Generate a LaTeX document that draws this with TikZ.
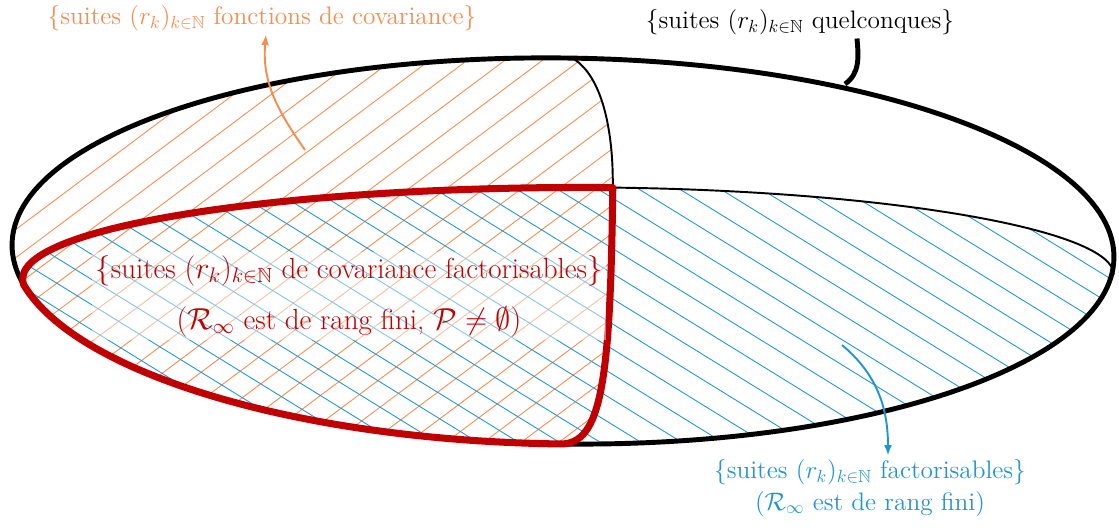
\documentclass[tikz,border=0pt]{standalone}
\usepackage{amsmath,amssymb}
\usepackage{xcolor}
\usepackage{tikz}
\usetikzlibrary{arrows.meta}
\definecolor{covorange}{RGB}{245,140,80}
\definecolor{factblue}{RGB}{30,150,210}
\definecolor{factred}{RGB}{192,0,0}
\tikzset{
  setline/.style={draw=black, line width=2.8pt},
  edgeline/.style={draw=black, line width=1.1pt},
  covhatch/.style={draw=covorange, line width=0.5pt},
  facthatch/.style={draw=factblue, line width=0.5pt},
  redline/.style={draw=factred, line width=4pt, line join=round},
  covarrow/.style={-{Latex[length=6pt,width=4.5pt]}, draw=covorange, line width=1.1pt},
  factarrow/.style={-{Latex[length=6pt,width=4.5pt]}, draw=factblue, line width=1.1pt},
  setlabel/.style={font=\Large, align=center, inner sep=2pt}
}

\begin{document}
\begin{tikzpicture}[x=0.02cm,y=0.02cm]
\useasboundingbox (0,0) rectangle (1119,530);
\begin{scope}[rotate around={-0.7:(563,279)}]
% hachures orange
\begin{scope}
\clip (563,279) ellipse [x radius=551, y radius=193];
\clip (570,540) -- (570,472) .. controls (600,455) and (612,400) .. (612,343) .. controls (612,150) and (604,86) .. (563,86) -- (563,-10) -- (-10,-10) -- (-10,540) -- cycle;
\foreach \i in {-700,-663,...,650}{\draw[covhatch] (\i,0) -- +(690,530);}
\end{scope}
% hachures bleues
\begin{scope}
\clip (563,279) ellipse [x radius=551, y radius=193];
\clip (24,238.9) .. controls (4,298) and (300,342) .. (612,343) arc[start angle=90, end angle=0, x radius=502, y radius=81] -- (1130,262) -- (1130,-10) -- (-10,-10) -- (-10,238.9) -- cycle;
\foreach \j in {0,25,...,1225}{\draw[facthatch] (0,\j) -- +(1119,-672);}
\end{scope}
% bords
\draw[edgeline] (570,472) .. controls (600,455) and (612,400) .. (612,343) arc[start angle=90, end angle=0, x radius=502, y radius=81];
\draw[setline] (563,279) ellipse [x radius=551, y radius=193];
\draw[redline] (612,343) .. controls (300,342) and (4,298) .. (24,238.9) arc[start angle=192, end angle=270, x radius=551, y radius=193] .. controls (604,86) and (612,150) .. (612,343) -- cycle;
\end{scope}
% etiquettes
\node[setlabel, text=covorange] (covlabel) at (262,512) {$\{$suites $(r_k)_{k\in\mathbb{N}}$ fonctions de covariance$\}$};
\node[setlabel] (anylabel) at (800,508) {$\{$suites $(r_k)_{k\in\mathbb{N}}$ quelconques$\}$};
\node[setlabel, font=\fontsize{16.5}{20}\selectfont, text=factred, fill=white, fill opacity=0.45, text opacity=1] (bothlabel) at (349,234) {$\{$suites $(r_k)_{k\in\mathbb{N}}$ de covariance factorisables$\}$\\[9pt] $(\mathcal{R}_\infty$ est de rang fini, $\mathcal{P}\neq\emptyset)$};
\node[setlabel, text=factblue] (factlabel) at (870,42) {$\{$suites $(r_k)_{k\in\mathbb{N}}$ factorisables$\}$\\ $(\mathcal{R}_\infty$ est de rang fini$)$};
% fleches
\coordinate (covtail) at (305,380);
\coordinate (facttail) at (842,185);
\coordinate (anyfoot) at (845,446);
\draw[covarrow] (covtail) to[out=125,in=-95] ([xshift=0.08cm]covlabel.south);
\draw[factarrow] (facttail) to[out=-40,in=90] ([xshift=0.36cm]factlabel.north);
\draw[setline] ([xshift=1.14cm]anylabel.south) to[out=-85,in=35] (anyfoot);
\end{tikzpicture}
\end{document}
